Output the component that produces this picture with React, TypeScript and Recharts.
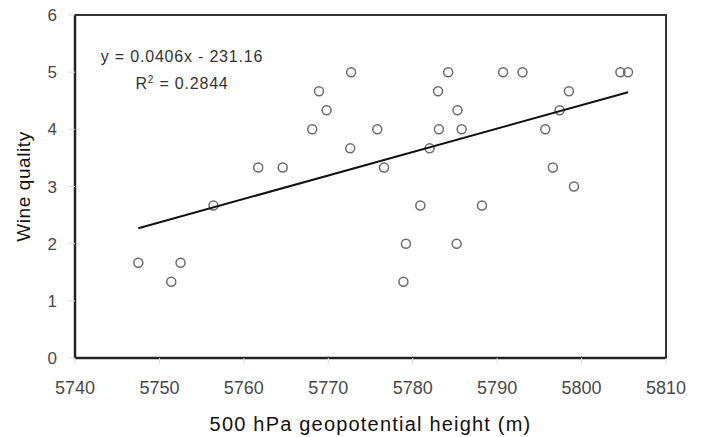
import React from "react"
import { ComposedChart, Scatter, XAxis, YAxis, ReferenceArea, Label } from "recharts"

// observed points: 500 hPa geopotential height (m) vs wine quality
const heights = [
  5747.5, 5751.4, 5752.5, 5756.4, 5761.7, 5764.6, 5768.1, 5768.9, 5769.8, 5772.7, 5772.6,
  5775.8, 5776.6, 5778.9, 5779.2, 5780.9, 5782.0, 5783.0, 5783.1, 5784.2, 5785.3, 5785.2,
  5785.8, 5788.2, 5790.7, 5793.0, 5795.7, 5796.6, 5797.4, 5798.5, 5799.1, 5804.6, 5805.5,
]
const quality = [
  1.667, 1.333, 1.667, 2.667, 3.333, 3.333, 4.0, 4.667, 4.333, 5.0, 3.667,
  4.0, 3.333, 1.333, 2.0, 2.667, 3.667, 4.667, 4.0, 5.0, 4.333, 2.0,
  4.0, 2.667, 5.0, 5.0, 4.0, 3.333, 4.333, 4.667, 3.0, 5.0, 5.0,
]

// linear trendline endpoints as drawn
const trendX = [5747.5, 5805.5]
const trendY = [2.27, 4.65]

const xTicks = [5740, 5750, 5760, 5770, 5780, 5790, 5800, 5810]
const yTicks = [0, 1, 2, 3, 4, 5, 6]

const equation = "y = 0.0406x - 231.16"
const rSquared = "0.2844"

const FONT = "'Liberation Sans', Arial, Helvetica, sans-serif"

const points = heights.map((h, i) => ({ x: h, y: quality[i] }))
const trend = trendX.map((x, i) => ({ x, y: trendY[i] }))

const OpenCircle = (props: any) => (
  <circle cx={props.cx} cy={props.cy} r={4.5} fill="none" stroke="#6b6b6b" strokeWidth={1.5} />
)

const XTick = ({ x, y, payload }: any) => (
  <text x={x} y={y + 28} textAnchor="middle" fontSize={18} fill="#4a4a4a" fontFamily={FONT}>
    {payload.value}
  </text>
)

const YTick = ({ x, y, payload }: any) => (
  <text x={x - 9} y={y + 6} textAnchor="end" fontSize={17} fill="#4a4a4a" fontFamily={FONT}>
    {payload.value}
  </text>
)

export default function App() {
  return (
    <div style={{ position: "absolute", left: 0, top: 0, width: 702, height: 437, background: "#fff" }}>
      <ComposedChart width={702} height={437} margin={{ top: 15, right: 36, bottom: 0, left: 0 }}>
        <XAxis
          type="number"
          dataKey="x"
          domain={[5740, 5810]}
          ticks={xTicks}
          height={79}
          axisLine={{ stroke: "#222", strokeWidth: 2.5 }}
          tickLine={{ stroke: "#ddd" }}
          tickSize={6}
          tick={<XTick />}
          allowDataOverflow
        >
          <Label
            content={({ viewBox }: any) => (
              <text
                x={viewBox.x + viewBox.width / 2}
                y={viewBox.y + 73}
                textAnchor="middle"
                fontSize={20}
                letterSpacing={1.2}
                fill="#111"
                fontFamily={FONT}
              >
                500 hPa geopotential height (m)
              </text>
            )}
          />
        </XAxis>
        <YAxis
          type="number"
          dataKey="y"
          domain={[0, 6]}
          ticks={yTicks}
          width={75}
          axisLine={{ stroke: "#222", strokeWidth: 2.5 }}
          tickLine={{ stroke: "#ddd" }}
          tickSize={7}
          tick={<YTick />}
          allowDataOverflow
        >
          <Label
            content={({ viewBox }: any) => {
              const cx = 30
              const cy = viewBox.y + viewBox.height / 2
              return (
                <text
                  x={cx}
                  y={cy}
                  transform={`rotate(-90 ${cx} ${cy})`}
                  textAnchor="middle"
                  fontSize={19}
                  letterSpacing={0.6}
                  fill="#111"
                  fontFamily={FONT}
                >
                  Wine quality
                </text>
              )
            }}
          />
        </YAxis>
        <ReferenceArea
          x1={5740}
          x2={5810}
          y1={0}
          y2={6}
          fill="none"
          stroke="#333"
          strokeWidth={2}
          ifOverflow="visible"
        />
        <Scatter data={points} shape={<OpenCircle />} isAnimationActive={false} />
        <Scatter
          data={trend}
          line={{ stroke: "#111", strokeWidth: 2 }}
          shape={() => <g />}
          isAnimationActive={false}
        />
      </ComposedChart>
      <div
        style={{
          position: "absolute",
          left: 82,
          top: 43,
          width: 200,
          textAlign: "center",
          fontFamily: FONT,
          fontSize: 16,
          letterSpacing: 0.8,
          lineHeight: "27px",
          color: "#333",
        }}
      >
        <div>{equation}</div>
        <div>
          R<sup style={{ fontSize: 10, lineHeight: 0 }}>2</sup> = {rSquared}
        </div>
      </div>
    </div>
  )
}
